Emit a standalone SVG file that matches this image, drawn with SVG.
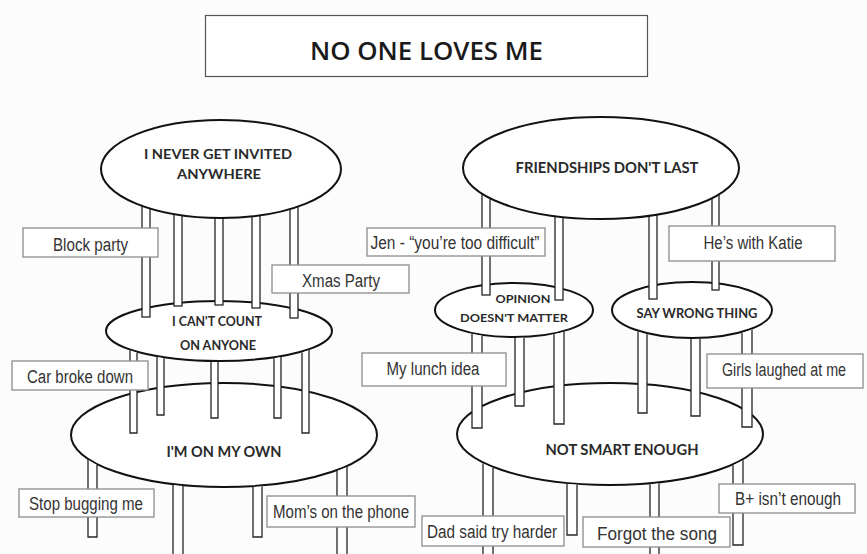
<svg xmlns="http://www.w3.org/2000/svg" width="867" height="554" viewBox="0 0 867 554">
<style>
.tbl{fill:#fff;stroke:#111;stroke-width:2}
.leg{fill:#fff;stroke:#262626;stroke-width:1.3}
.box{fill:#fff;stroke:#8c8c8c;stroke-width:1.3}
.lbl{font-family:"Liberation Sans",Arial,sans-serif;font-size:18px;fill:#333;text-anchor:middle}
.el{font-family:Lato,"Liberation Sans",sans-serif;font-weight:700;fill:#2a2a2a;text-anchor:middle}
</style>
<rect width="867" height="554" fill="#fcfcfc"/>

<!-- title -->
<g id="title">
<rect x="205.5" y="15.5" width="442" height="61" fill="#fff" stroke="#555" stroke-width="1.2"/>
<text x="426.5" y="60" style="font-family:'Open Sans','Liberation Sans',sans-serif;font-size:26px;font-weight:600;fill:#1a1a1a;text-anchor:middle" textLength="233" lengthAdjust="spacingAndGlyphs">NO ONE LOVES ME</text>
</g>

<!-- bottom tier tables -->
<g id="own">
<ellipse class="tbl" cx="224" cy="435" rx="153" ry="52"/>
<text class="el" x="224" y="457" font-size="15" textLength="115" lengthAdjust="spacingAndGlyphs">I'M ON MY OWN</text>
</g>
<g id="smart">
<ellipse class="tbl" cx="610" cy="434" rx="153" ry="51"/>
<text class="el" x="622" y="455" font-size="15" textLength="153" lengthAdjust="spacingAndGlyphs">NOT SMART ENOUGH</text>
</g>

<!-- middle tier tables -->
<g id="count">
<ellipse class="tbl" cx="219" cy="331" rx="113" ry="30"/>
<text class="el" x="217" y="326" font-size="13" textLength="90" lengthAdjust="spacingAndGlyphs">I CAN'T COUNT</text>
<text class="el" x="218" y="350" font-size="13" textLength="76" lengthAdjust="spacingAndGlyphs">ON ANYONE</text>
</g>
<g id="opinion">
<ellipse class="tbl" cx="514" cy="310" rx="79" ry="27"/>
<text class="el" x="523" y="303" font-size="12" textLength="55" lengthAdjust="spacingAndGlyphs">OPINION</text>
<text class="el" x="514" y="322" font-size="12" textLength="108" lengthAdjust="spacingAndGlyphs">DOESN'T MATTER</text>
</g>
<g id="wrong">
<ellipse class="tbl" cx="692" cy="310" rx="80" ry="28"/>
<text class="el" x="697" y="318" font-size="13" textLength="121" lengthAdjust="spacingAndGlyphs">SAY WRONG THING</text>
</g>

<!-- connectors: table legs -->
<g id="connectors">
<!-- legs of I NEVER GET INVITED -->
<rect class="leg" x="142" y="195" width="8" height="122"/>
<rect class="leg" x="174" y="200" width="8" height="106"/>
<rect class="leg" x="215" y="200" width="8" height="105"/>
<rect class="leg" x="252" y="200" width="8" height="108"/>
<rect class="leg" x="290" y="195" width="8" height="123"/>
<!-- legs of FRIENDSHIPS DON'T LAST -->
<rect class="leg" x="482" y="185" width="8" height="110"/>
<rect class="leg" x="555" y="195" width="8" height="105"/>
<rect class="leg" x="649" y="195" width="8" height="104"/>
<rect class="leg" x="712" y="185" width="7" height="105"/>
<!-- legs of I CAN'T COUNT -->
<path class="leg" d="M130,350.5V433H137V352.6"/>
<path class="leg" d="M157,357.1V415H164V358.2"/>
<path class="leg" d="M211,361.9V418H218V362"/>
<path class="leg" d="M274,358.2V418H281V357.1"/>
<path class="leg" d="M302,352.4V433H309V350.1"/>
<!-- legs of OPINION -->
<path class="leg" d="M472,333.9V428H482V335.7"/>
<path class="leg" d="M515,338V406H524V337.8"/>
<path class="leg" d="M554,334.3V424H564V331.9"/>
<!-- legs of SAY WRONG THING -->
<path class="leg" d="M638,331.7V413H647V334.2"/>
<path class="leg" d="M691,339V416H700V338.9"/>
<path class="leg" d="M742,332.9V427H752V329.5"/>
<!-- legs of I'M ON MY OWN -->
<path class="leg" d="M88,459.8V537H97V465"/>
<path class="leg" d="M173,485V562H183V486.1"/>
<path class="leg" d="M253,487.1V537H262V486.4"/>
<path class="leg" d="M337,471.1V562H347V466.9"/>
<!-- legs of NOT SMART ENOUGH -->
<path class="leg" d="M483,463.4V562H493V467.9"/>
<path class="leg" d="M567,483.9V535H577V484.8"/>
<path class="leg" d="M650,484.2V562H659V483.3"/>
<path class="leg" d="M733,465.3V545H743V460.2"/>
</g>

<!-- top tier tables -->
<g id="invited">
<ellipse class="tbl" cx="221" cy="169" rx="120" ry="49"/>
<text class="el" x="218" y="159" font-size="14" textLength="148" lengthAdjust="spacingAndGlyphs">I NEVER GET INVITED</text>
<text class="el" x="219" y="179" font-size="14" textLength="84" lengthAdjust="spacingAndGlyphs">ANYWHERE</text>
</g>
<g id="friendships">
<ellipse class="tbl" cx="601" cy="168" rx="138" ry="51"/>
<text class="el" x="607" y="173" font-size="15" textLength="183" lengthAdjust="spacingAndGlyphs">FRIENDSHIPS DON'T LAST</text>
</g>

<!-- evidence labels -->
<g id="block-party">
<rect class="box" x="23" y="228" width="135" height="29"/>
<text class="lbl" x="90.5" y="251" textLength="75" lengthAdjust="spacingAndGlyphs">Block party</text>
</g>
<g id="xmas-party">
<rect class="box" x="272" y="265" width="137" height="28"/>
<text class="lbl" x="341" y="287" textLength="78" lengthAdjust="spacingAndGlyphs">Xmas Party</text>
</g>
<g id="car-broke-down">
<rect class="box" x="12" y="361" width="136" height="29"/>
<text class="lbl" x="80" y="383" textLength="106" lengthAdjust="spacingAndGlyphs">Car broke down</text>
</g>
<g id="stop-bugging">
<rect class="box" x="19" y="489" width="135" height="28"/>
<text class="lbl" x="86" y="510" textLength="114" lengthAdjust="spacingAndGlyphs">Stop bugging me</text>
</g>
<g id="moms-phone">
<rect class="box" x="267" y="496" width="148" height="31"/>
<text class="lbl" x="341" y="518" textLength="136" lengthAdjust="spacingAndGlyphs">Mom’s on the phone</text>
</g>
<g id="jen">
<rect class="box" x="367" y="228" width="178" height="28"/>
<text class="lbl" x="455" y="249" textLength="169" lengthAdjust="spacingAndGlyphs">Jen - “you’re too difficult”</text>
</g>
<g id="katie">
<rect class="box" x="669" y="226" width="166" height="35"/>
<text class="lbl" x="753" y="249" textLength="99" lengthAdjust="spacingAndGlyphs">He’s with Katie</text>
</g>
<g id="lunch-idea">
<rect class="box" x="362" y="353" width="144" height="33"/>
<text class="lbl" x="433" y="375" textLength="93" lengthAdjust="spacingAndGlyphs">My lunch idea</text>
</g>
<g id="girls-laughed">
<rect class="box" x="707" y="354" width="156" height="34"/>
<text class="lbl" x="784" y="376" font-size="16" textLength="124" lengthAdjust="spacingAndGlyphs">Girls laughed at me</text>
</g>
<g id="b-plus">
<rect class="box" x="719" y="484" width="136" height="29"/>
<text class="lbl" x="788" y="505" textLength="106" lengthAdjust="spacingAndGlyphs">B+ isn’t enough</text>
</g>
<g id="dad-said">
<rect class="box" x="422" y="516" width="142" height="30"/>
<text class="lbl" x="492" y="538" textLength="130" lengthAdjust="spacingAndGlyphs">Dad said try harder</text>
</g>
<g id="forgot-song">
<rect class="box" x="583" y="517" width="147" height="30"/>
<text class="lbl" x="657" y="540" font-size="19" textLength="120" lengthAdjust="spacingAndGlyphs">Forgot the song</text>
</g>
</svg>
